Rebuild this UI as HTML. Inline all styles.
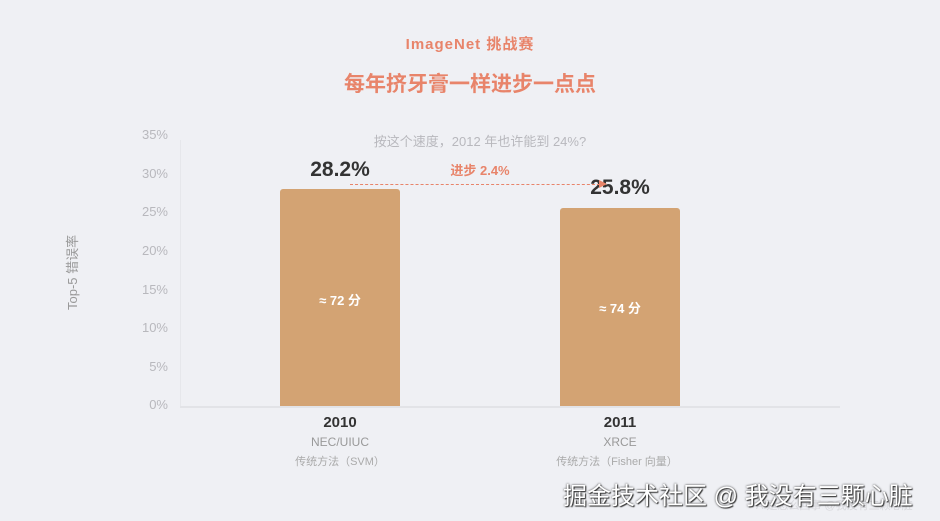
<!DOCTYPE html>
<html><head><meta charset="utf-8"><style>
html,body{margin:0;padding:0;}
body{width:940px;height:521px;background:#eff0f4;position:relative;overflow:hidden;font-family:"Liberation Sans","Noto Sans CJK SC",sans-serif;}
.a{position:absolute;white-space:nowrap;}
.c{transform:translateX(-50%);}
.t{right:772px;font-size:13px;color:#b8b8bd;line-height:14px;}
.bar{position:absolute;background:#d3a373;border-radius:3px 3px 0 0;}
</style></head><body>
<div class="a c" style="left:470px;top:33px;font-size:15px;font-weight:bold;color:#e8846a;letter-spacing:1px;">ImageNet 挑战赛</div>
<div class="a c" style="left:470px;top:68px;font-size:21px;font-weight:bold;color:#e8846a;">每年挤牙膏一样进步一点点</div>
<div class="a c" style="left:480px;top:131px;font-size:13px;color:#b8b8bd;">按这个速度，2012 年也许能到 24%?</div>
<div class="a t" style="top:128px">35%</div>
<div class="a t" style="top:167px">30%</div>
<div class="a t" style="top:205px">25%</div>
<div class="a t" style="top:244px">20%</div>
<div class="a t" style="top:283px">15%</div>
<div class="a t" style="top:321px">10%</div>
<div class="a t" style="top:360px">5%</div>
<div class="a t" style="top:398px">0%</div>
<div class="a" style="left:62px;top:310px;transform:rotate(-90deg);transform-origin:0 0;font-size:13px;color:#999;">Top-5 错误率</div>
<div class="a" style="left:180px;top:140px;width:1px;height:267px;background:#e6e7eb;"></div>
<div class="a" style="left:180px;top:406px;width:660px;height:2px;background:#e2e3e7;"></div>
<div class="bar" style="left:280px;top:189px;width:120px;height:217px;"></div>
<div class="bar" style="left:560px;top:208px;width:120px;height:198px;"></div>
<div class="a c" style="left:340px;top:158px;font-size:21px;font-weight:bold;color:#333;">28.2%</div>
<div class="a c" style="left:620px;top:176px;font-size:21px;font-weight:bold;color:#333;">25.8%</div>
<div class="a c" style="left:480px;top:160px;font-size:13px;font-weight:bold;color:#e8846a;">进步 2.4%</div>
<div class="a" style="left:350px;top:184px;width:255px;border-top:1.5px dashed #e8846a;"></div>
<div class="a" style="left:599px;top:180px;width:0;height:0;border-left:8px solid #e8846a;border-top:4px solid transparent;border-bottom:4px solid transparent;"></div>
<div class="a c" style="left:340px;top:290px;font-size:13px;font-weight:bold;color:#fff;">≈ 72 分</div>
<div class="a c" style="left:620px;top:298px;font-size:13px;font-weight:bold;color:#fff;">≈ 74 分</div>
<div class="a c" style="left:340px;top:414px;font-size:15px;font-weight:bold;color:#333;">2010</div>
<div class="a c" style="left:340px;top:435px;font-size:12px;color:#999;">NEC/UIUC</div>
<div class="a c" style="left:340px;top:453px;font-size:11px;color:#aaa;">传统方法（SVM）</div>
<div class="a c" style="left:620px;top:414px;font-size:15px;font-weight:bold;color:#333;">2011</div>
<div class="a c" style="left:620px;top:435px;font-size:12px;color:#999;">XRCE</div>
<div class="a c" style="left:617px;top:453px;font-size:11px;color:#aaa;">传统方法（Fisher 向量）</div>
<div class="a" style="left:756px;top:497px;font-size:11px;color:#d8d8dc;">AI是怎么回事 @我没有三颗心脏</div>
<div class="a" style="left:563px;top:476px;font-size:24px;color:#fff;text-shadow:0 0 2px #333,1px 1px 1px #333;">掘金技术社区 @ 我没有三颗心脏</div>
</body></html>
